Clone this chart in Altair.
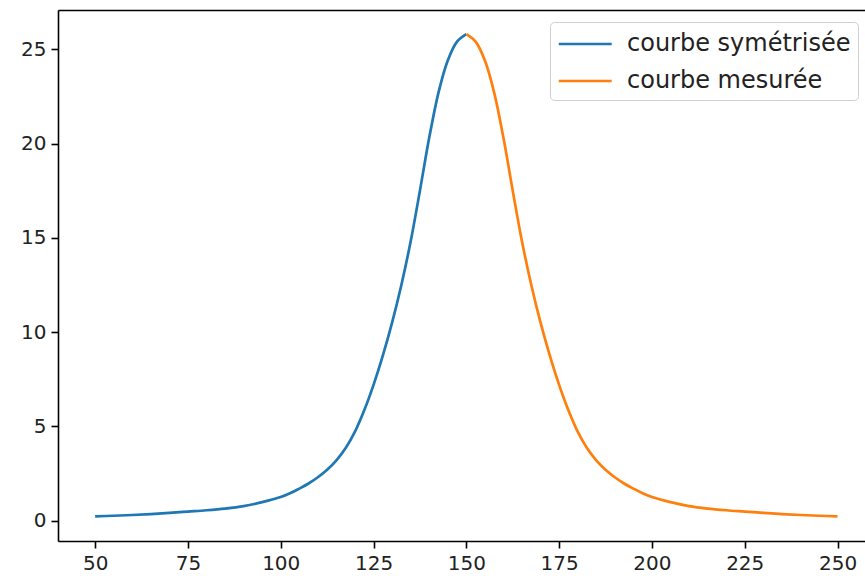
import altair as alt
import pandas as pd

# Measured half of the curve (angle, value), from the peak outwards
x_mesure = [150, 152.5, 155, 157.5, 160, 162.5, 165, 167.5, 170, 172.5, 175,
            177.5, 180, 182.5, 185, 187.5, 190, 192.5, 195, 197.5, 200, 205,
            210, 215, 220, 225, 230, 235, 240, 245, 250]
y_mesure = [25.8, 25.4, 24.4, 22.7, 20.3, 17.5, 14.8, 12.5, 10.5, 8.75, 7.2,
            5.85, 4.72, 3.85, 3.2, 2.7, 2.3, 1.97, 1.7, 1.45, 1.25, 0.98,
            0.77, 0.64, 0.55, 0.48, 0.41, 0.35, 0.30, 0.26, 0.23]

centre = 150
serie_sym = "courbe symétrisée"
serie_mes = "courbe mesurée"

# The symmetrised curve mirrors the measured one about the peak
x_sym = [2 * centre - v for v in x_mesure]
y_sym = list(y_mesure)

df = pd.concat([
    pd.DataFrame({"x": x_sym, "y": y_sym, "serie": serie_sym, "ordre": range(len(x_sym))}),
    pd.DataFrame({"x": x_mesure, "y": y_mesure, "serie": serie_mes, "ordre": range(len(x_mesure))}),
])

x_ticks = [50, 75, 100, 125, 150, 175, 200, 225, 250]
y_ticks = [0, 5, 10, 15, 20, 25]

FONT = "DejaVu Sans"

x_scale = alt.Scale(domain=[40, 257.4], nice=False, zero=False)
y_scale = alt.Scale(domain=[-1.08, 27.08], nice=False, zero=False)

base_axis = dict(
    domainColor="black", domainWidth=1.6, tickColor="black", tickWidth=1.6,
    tickSize=7, labelFont=FONT, labelFontSize=20, labelColor="#222222",
    labelPadding=5, grid=False, title=None,
)

lines = alt.Chart(df).mark_line(strokeWidth=2.7, interpolate="catmull-rom").encode(
    x=alt.X("x:Q", scale=x_scale, axis=alt.Axis(values=x_ticks, **base_axis)),
    y=alt.Y("y:Q", scale=y_scale, axis=alt.Axis(values=y_ticks, **base_axis)),
    color=alt.Color(
        "serie:N",
        scale=alt.Scale(domain=[serie_sym, serie_mes], range=["#1f77b4", "#ff7f0e"]),
        legend=alt.Legend(
            title=None, orient="none", legendX=492, legendY=12,
            symbolType="M-1,0H3", symbolSize=700, symbolStrokeWidth=2.7,
            labelFont=FONT, labelFontSize=24, labelColor="#222222",
            labelOffset=40, rowPadding=10, padding=7,
            strokeColor="#d0d0d0", cornerRadius=4, fillColor="white",
            labelLimit=400,
        ),
    ),
    detail="serie:N",
    order="ordre:Q",
)

# Top spine drawn as a bare axis
top_spine = alt.Chart(df).mark_line(opacity=0).encode(
    x=alt.X("x:Q", scale=x_scale,
            axis=alt.Axis(orient="top", labels=False, ticks=False,
                          domainColor="black", domainWidth=1.6, title=None, grid=False)),
    y=alt.Y("y:Q", scale=y_scale),
)

chart = alt.layer(lines, top_spine).resolve_axis(x="independent").properties(
    width=807, height=531,
    padding={"left": 58, "top": 10, "right": 0, "bottom": 40},
    autosize=alt.AutoSizeParams(type="none"),
).configure_view(stroke=None).configure(background="white")

chart.save("out.html", embed_options={"renderer": "svg", "actions": False})
